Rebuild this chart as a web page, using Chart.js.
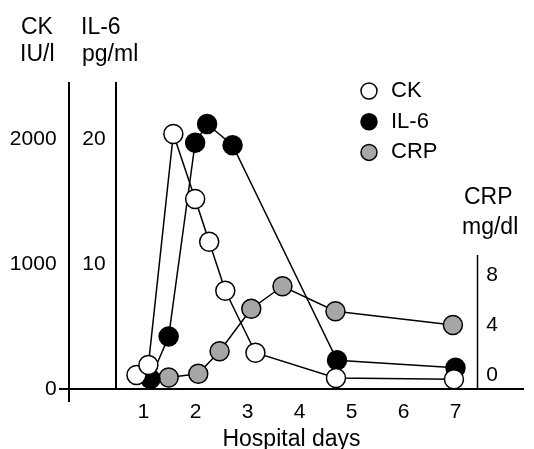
<!DOCTYPE html>
<html>
<head>
<meta charset="utf-8">
<script src="https://cdn.jsdelivr.net/npm/chart.js@4"></script>
<style>
  html, body { margin: 0; padding: 0; background: #fff; }
  #wrap { width: 534px; height: 449px; }
</style>
</head>
<body>
<div id="wrap"><canvas id="myChart"></canvas></div>
<script>
// values (x = hospital day)
const ckDays = [0.86, 1.09, 1.57, 1.99, 2.26, 2.57, 3.15, 4.70, 6.97];
const ckValues = [112, 192, 2040, 1520, 1178, 786, 290, 88, 78];

const il6Days = [1.13, 1.48, 1.99, 2.22, 2.71, 4.72, 7.00];
const il6Values = [0.8, 4.2, 19.7, 21.2, 19.5, 2.3, 1.7];

const crpDays = [1.48, 2.05, 2.46, 3.07, 3.67, 4.69, 6.95];
const crpValues = [-0.2, 0.1, 1.9, 5.3, 7.1, 5.1, 4.0];

const dayTicks = [1, 2, 3, 4, 5, 6, 7];
const ckTicks = [0, 1000, 2000];
const il6Ticks = [10, 20];
const crpTicks = [0, 4, 8];

// axis placement, in hospital days along x
const xMin = -0.611, xMax = 8.299;
const ckAxisDay = -0.442, il6AxisDay = 0.46, crpAxisDay = 7.41;
const ckLabelDay = -0.677, il6LabelDay = 0.267, crpLabelDay = 7.816;
const crpAxisTop = 9.6;

const FONT = '"Liberation Sans", Arial, sans-serif';
Chart.defaults.font.family = FONT;
Chart.defaults.color = '#000';

const axisTitles = [
    { text: 'CK', x: 21, y: 28 },
    { text: 'IU/l', x: 20, y: 55 },
    { text: 'IL-6', x: 81, y: 28 },
    { text: 'pg/ml', x: 82, y: 55 },
    { text: 'CRP', x: 464, y: 198 },
    { text: 'mg/dl', x: 462, y: 228 }
];

const decor = {
    id: 'decor',
    afterDraw(chart) {
        const ctx = chart.ctx;
        const xs = chart.scales.x;
        ctx.save();
        // short CRP axis line
        const ax = Math.round(xs.getPixelForValue(crpAxisDay)) + 0.5;
        ctx.strokeStyle = '#000';
        ctx.lineWidth = 1.5;
        ctx.beginPath();
        ctx.moveTo(ax, chart.scales.crp.getPixelForValue(crpAxisTop));
        ctx.lineTo(ax, chart.chartArea.bottom);
        ctx.stroke();

        // unit labels
        ctx.font = '23px ' + FONT;
        ctx.fillStyle = '#000';
        ctx.textBaseline = 'middle';
        ctx.textAlign = 'left';
        axisTitles.forEach(t => ctx.fillText(t.text, t.x, t.y));

        // legend
        ctx.font = '22px ' + FONT;
        chart.data.datasets.forEach((ds, i) => {
            const y = 91 + i * 30.7;
            ctx.beginPath();
            ctx.arc(369, y, 8, 0, Math.PI * 2);
            ctx.fillStyle = ds.pointBackgroundColor;
            ctx.fill();
            ctx.lineWidth = 1.5;
            ctx.strokeStyle = '#000';
            ctx.stroke();
            ctx.fillStyle = '#000';
            ctx.fillText(ds.label, 391, y);
        });
        ctx.restore();
    }
};

function series(label, days, values, axis, fillColor) {
    return {
        label: label,
        data: days.map((d, i) => ({ x: d, y: values[i] })),
        yAxisID: axis,
        borderColor: '#000',
        borderWidth: 1.5,
        pointRadius: 9.5,
        pointBorderWidth: 1.5,
        pointBackgroundColor: fillColor,
        pointBorderColor: '#000',
        fill: false,
        tension: 0,
        clip: false
    };
}

const ctx = document.getElementById('myChart').getContext('2d');
const myChart = new Chart(ctx, {
    type: 'line',
    data: {
        datasets: [
            series('CK', ckDays, ckValues, 'ck', '#fff'),
            series('IL-6', il6Days, il6Values, 'il6', '#000'),
            series('CRP', crpDays, crpValues, 'crp', '#a6a6a6')
        ]
    },
    options: {
        responsive: true,
        maintainAspectRatio: false,
        animation: false,
        layout: { padding: { top: 82, left: 60, right: 0, bottom: 0 } },
        plugins: { legend: { display: false }, tooltip: { enabled: false } },
        scales: {
            x: {
                type: 'linear',
                position: 'bottom',
                min: xMin,
                max: xMax,
                afterFit: s => { s.height = 60; },
                afterBuildTicks: s => {
                    s.ticks = [ckAxisDay, il6AxisDay, ...dayTicks].map(v => ({ value: v }));
                },
                ticks: {
                    autoSkip: false,
                    maxRotation: 0,
                    padding: 0,
                    font: { size: 21, lineHeight: 1 },
                    callback: v => dayTicks.includes(v) ? String(v) : ''
                },
                grid: {
                    drawOnChartArea: true,
                    drawTicks: true,
                    tickLength: 13,
                    lineWidth: 2,
                    tickWidth: 2,
                    color: c => (c.tick && (c.tick.value === ckAxisDay || c.tick.value === il6AxisDay)) ? '#000' : 'rgba(0,0,0,0)',
                    tickColor: c => (c.tick && c.tick.value === ckAxisDay) ? '#000' : 'rgba(0,0,0,0)'
                },
                border: { display: true, color: '#000', width: 2 },
                title: {
                    display: true,
                    text: 'Hospital days',
                    font: { size: 23, lineHeight: 1 },
                    padding: { top: 0, bottom: -2 }
                }
            },
            ck: {
                type: 'linear',
                position: { x: ckLabelDay },
                min: 0,
                max: 2456,
                afterBuildTicks: s => { s.ticks = ckTicks.map(v => ({ value: v })); },
                ticks: { padding: 0, font: { size: 21 }, callback: v => String(v) },
                grid: { display: false },
                border: { display: false }
            },
            il6: {
                type: 'linear',
                position: { x: il6LabelDay },
                min: 0,
                max: 24.56,
                afterBuildTicks: s => { s.ticks = il6Ticks.map(v => ({ value: v })); },
                ticks: { padding: 0, font: { size: 21 }, callback: v => String(v) },
                grid: { display: false },
                border: { display: false }
            },
            crp: {
                type: 'linear',
                position: { x: crpLabelDay },
                min: -1.12,
                max: 23.44,
                afterBuildTicks: s => { s.ticks = crpTicks.map(v => ({ value: v })); },
                ticks: { padding: 0, font: { size: 21 }, callback: v => String(v) },
                grid: { display: false },
                border: { display: false }
            }
        }
    },
    plugins: [decor]
});
</script>
</body>
</html>
